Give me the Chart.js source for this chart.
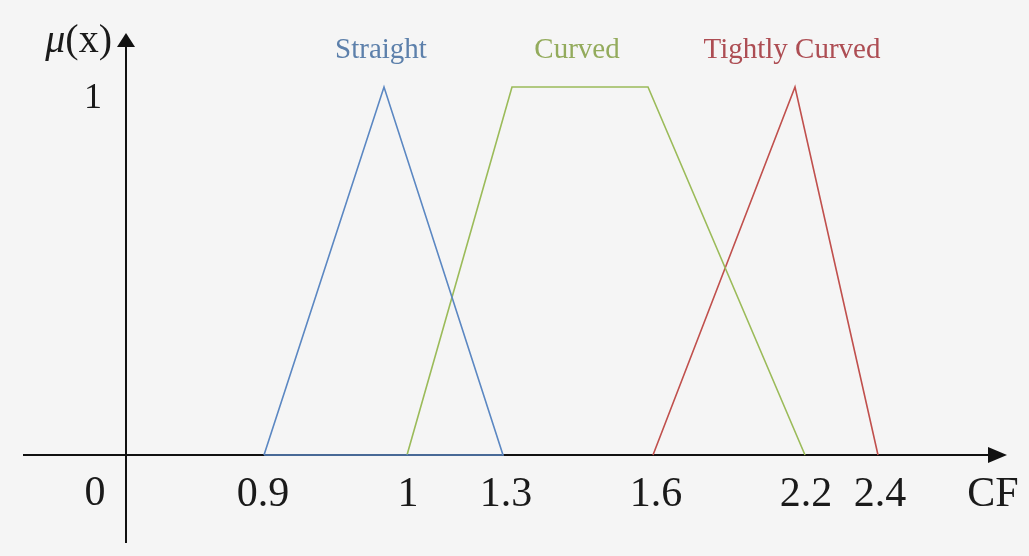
<!DOCTYPE html>
<html>
<head>
<meta charset="utf-8">
<script src="https://cdn.jsdelivr.net/npm/chart.js@4"></script>
<style>
  html, body { margin: 0; padding: 0; background: #f5f5f5; }
  canvas { display: block; }
</style>
</head>
<body>
<canvas id="chart" width="1029" height="556"></canvas>
<script>
// The CF axis in the figure is schematic (not to scale), so x is in "axis units" along the drawn axis
const cfLabels = ['0.9', '1', '1.3', '1.6', '2.2', '2.4'];
const cfAt = [13.7, 28.2, 38.0, 53.0, 68.0, 75.4];

const seriesNames = ['Straight', 'Curved', 'Tightly Curved'];
const straightX = [13.8, 25.8, 37.7, 13.8];
const straightY = [0, 1, 0, 0];
const curvedX = [28.1, 38.6, 52.2, 67.9];
const curvedY = [0, 1, 1, 0];
const tightX = [52.7, 66.9, 75.2];
const tightY = [0, 1, 0];

const lineColors = ['#5b87c2', '#9bbb59', '#c0504d'];
const textColors = ['#5d80ab', '#93ab5c', '#ad4d53'];

const toPoints = (xs, ys) => xs.map((x, i) => ({ x: x, y: ys[i] }));

// axes with arrows, tick labels and series names
const diagramPlugin = {
  id: 'diagram',
  beforeDatasetsDraw(chart) {
    const { ctx, chartArea, scales: { x, y } } = chart;
    const x0 = x.getPixelForValue(0);
    const y0 = y.getPixelForValue(0);
    ctx.save();
    ctx.strokeStyle = '#111';
    ctx.fillStyle = '#111';
    ctx.lineWidth = 2;
    ctx.beginPath();
    ctx.moveTo(chartArea.left, y0);
    ctx.lineTo(chartArea.right - 6, y0);
    ctx.moveTo(x0, chartArea.bottom);
    ctx.lineTo(x0, chartArea.top + 6);
    ctx.stroke();
    // arrow heads
    ctx.beginPath();
    ctx.moveTo(chartArea.right, y0);
    ctx.lineTo(chartArea.right - 19, y0 - 8);
    ctx.lineTo(chartArea.right - 19, y0 + 8);
    ctx.closePath();
    ctx.fill();
    ctx.beginPath();
    ctx.moveTo(x0, chartArea.top);
    ctx.lineTo(x0 - 9, chartArea.top + 14);
    ctx.lineTo(x0 + 9, chartArea.top + 14);
    ctx.closePath();
    ctx.fill();
    ctx.restore();
  },
  afterDatasetsDraw(chart) {
    const { ctx, chartArea, scales: { x, y } } = chart;
    const x0 = x.getPixelForValue(0);
    const y0 = y.getPixelForValue(0);
    const y1 = y.getPixelForValue(1);
    ctx.save();
    ctx.fillStyle = '#1a1a1a';
    ctx.textBaseline = 'alphabetic';
    ctx.font = '42px "Liberation Serif", serif';
    ctx.textAlign = 'center';
    cfLabels.forEach((lab, i) => {
      ctx.fillText(lab, x.getPixelForValue(cfAt[i]), y0 + 51);
    });
    ctx.fillText('0', x0 - 31, y0 + 50);
    ctx.fillText('CF', chartArea.right - 14, y0 + 51);
    // y axis
    ctx.font = '36px "Liberation Serif", serif';
    ctx.textAlign = 'right';
    ctx.fillText('1', x0 - 24, y1 + 21);
    ctx.font = '40px "Liberation Serif", serif';
    const xw = ctx.measureText('(x)').width;
    ctx.fillText('(x)', x0 - 14, y1 - 35);
    ctx.font = 'italic 40px "Liberation Serif", serif';
    ctx.fillText('\u03bc', x0 - 14 - xw, y1 - 35);
    // series names above their peaks
    ctx.font = '29px "Liberation Serif", serif';
    ctx.textAlign = 'center';
    chart.data.datasets.forEach((ds, i) => {
      const tops = ds.data.filter(p => p.y === 1);
      const cx = tops.reduce((s, p) => s + p.x, 0) / tops.length;
      ctx.fillStyle = textColors[i];
      ctx.fillText(seriesNames[i], x.getPixelForValue(cx) - 3, y1 - 29);
    });
    ctx.restore();
  }
};

new Chart(document.getElementById('chart'), {
  type: 'scatter',
  data: {
    datasets: [
      { label: seriesNames[0], data: toPoints(straightX, straightY) },
      { label: seriesNames[1], data: toPoints(curvedX, curvedY) },
      { label: seriesNames[2], data: toPoints(tightX, tightY) }
    ].map((ds, i) => Object.assign(ds, {
      showLine: true,
      borderColor: lineColors[i],
      backgroundColor: lineColors[i],
      borderWidth: 1.6,
      pointRadius: 0,
      tension: 0,
      fill: false
    }))
  },
  options: {
    responsive: false,
    animation: false,
    layout: { padding: { left: 23, right: 22, top: 33, bottom: 13 } },
    scales: {
      x: { type: 'linear', min: -10.3, max: 88.1, display: false },
      y: { type: 'linear', min: -0.2391, max: 1.1467, display: false }
    },
    plugins: {
      legend: { display: false },
      tooltip: { enabled: false }
    }
  },
  plugins: [diagramPlugin]
});
</script>
</body>
</html>
